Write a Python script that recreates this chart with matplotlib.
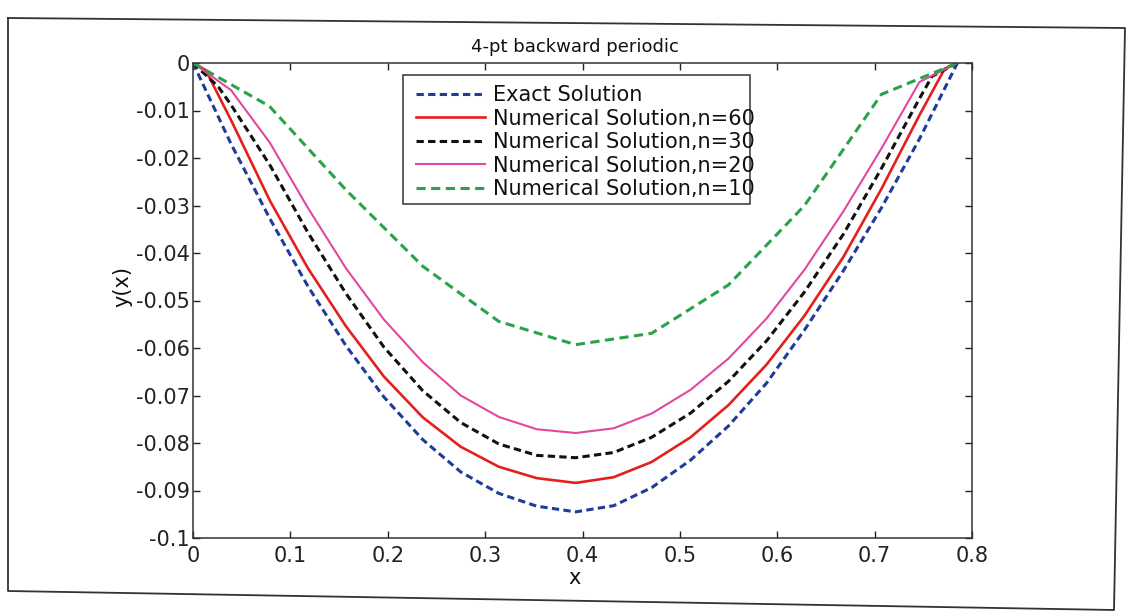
import matplotlib
matplotlib.use("Agg")
import matplotlib.pyplot as plt
from matplotlib.lines import Line2D
from matplotlib.patches import Rectangle

# grid points on [0, pi/4]
x_exact = [0, 0.039, 0.079, 0.118, 0.157, 0.196, 0.236, 0.275, 0.314, 0.353, 0.393,
           0.432, 0.471, 0.511, 0.550, 0.589, 0.628, 0.668, 0.707, 0.746, 0.785]
y_exact = [0, -0.0170, -0.0328, -0.0470, -0.0595, -0.0703, -0.0793, -0.0861, -0.0906, -0.0933, -0.0945,
           -0.0932, -0.0894, -0.0836, -0.0764, -0.0674, -0.0562, -0.0437, -0.0305, -0.0160, 0]

x_n60 = [0, 0.013, 0.039, 0.079, 0.118, 0.157, 0.196, 0.236, 0.275, 0.314, 0.353, 0.393,
         0.432, 0.471, 0.511, 0.550, 0.589, 0.628, 0.668, 0.707, 0.746, 0.772, 0.785]
y_n60 = [0, -0.0015, -0.0120, -0.0290, -0.0432, -0.0554, -0.0660, -0.0746, -0.0808, -0.0850, -0.0874, -0.0884,
         -0.0872, -0.0840, -0.0788, -0.0720, -0.0635, -0.0532, -0.0408, -0.0265, -0.0110, -0.0012, 0]

x_n30 = [0, 0.026, 0.039, 0.079, 0.118, 0.157, 0.196, 0.236, 0.275, 0.314, 0.353, 0.393,
         0.432, 0.471, 0.511, 0.550, 0.589, 0.628, 0.668, 0.707, 0.746, 0.759, 0.785]
y_n30 = [0, -0.0050, -0.0088, -0.0215, -0.0357, -0.0485, -0.0598, -0.0690, -0.0757, -0.0802, -0.0826, -0.0831,
         -0.0820, -0.0788, -0.0737, -0.0670, -0.0585, -0.0482, -0.0360, -0.0222, -0.0075, -0.0028, 0]

x_n20 = [0, 0.039, 0.079, 0.118, 0.157, 0.196, 0.236, 0.275, 0.314, 0.353, 0.393,
         0.432, 0.471, 0.511, 0.550, 0.589, 0.628, 0.668, 0.707, 0.746, 0.785]
y_n20 = [0, -0.0057, -0.0168, -0.0305, -0.0432, -0.0540, -0.0630, -0.0700, -0.0745, -0.0771, -0.0779,
         -0.0769, -0.0738, -0.0688, -0.0622, -0.0538, -0.0435, -0.0312, -0.0180, -0.0040, 0]

x_n10 = [0, 0.0785, 0.157, 0.236, 0.314, 0.393, 0.471, 0.550, 0.628, 0.707, 0.785]
y_n10 = [0, -0.0091, -0.0267, -0.0428, -0.0544, -0.0593, -0.0569, -0.0467, -0.0300, -0.0066, 0]

xticks = [0, 0.1, 0.2, 0.3, 0.4, 0.5, 0.6, 0.7, 0.8]
xtick_labels = ["0", "0.1", "0.2", "0.3", "0.4", "0.5", "0.6", "0.7", "0.8"]
yticks = [0, -0.01, -0.02, -0.03, -0.04, -0.05, -0.06, -0.07, -0.08, -0.09, -0.1]
ytick_labels = ["0", "-0.01", "-0.02", "-0.03", "-0.04", "-0.05", "-0.06", "-0.07", "-0.08", "-0.09", "-0.1"]

labels = ["Exact Solution", "Numerical Solution,n=60", "Numerical Solution,n=30",
          "Numerical Solution,n=20", "Numerical Solution,n=10"]

plt.rcParams["axes.unicode_minus"] = False
W, H = 1128, 612
fig = plt.figure(figsize=(W / 100, H / 100), dpi=100)
fig.patch.set_facecolor("white")

def fx(px):
    return px / W

def fy(py):
    return 1 - py / H

ax = fig.add_axes([fx(193), fy(538), fx(972) - fx(193), fy(63) - fy(538)])

ax.plot(x_exact, y_exact, color="#1f3c98", lw=2.2, dashes=(2.4, 1.4), label=labels[0])
ax.plot(x_n60, y_n60, color="#e3201e", lw=1.9, label=labels[1])
ax.plot(x_n30, y_n30, color="#111111", lw=2.2, dashes=(2.4, 1.4), label=labels[2])
ax.plot(x_n20, y_n20, color="#e2479f", lw=1.5, label=labels[3])
ax.plot(x_n10, y_n10, color="#2aa24a", lw=2.2, dashes=(3.0, 1.8), label=labels[4])

ax.set_xlim(0, 0.8)
ax.set_ylim(-0.1, 0)
ax.set_xticks(xticks)
ax.set_xticklabels(xtick_labels)
ax.set_yticks(yticks)
ax.set_yticklabels(ytick_labels)
ax.tick_params(direction="in", top=True, right=True, length=5, width=1,
               labelsize=15, colors="#222222")
ax.tick_params(axis="x", pad=6)
ax.tick_params(axis="y", pad=2.5)
for s in ax.spines.values():
    s.set_color("#333333")
    s.set_linewidth(1.1)

ax.set_title("4-pt backward periodic", fontsize=13, pad=8, x=0.49, color="#111111")
ax.set_xlabel("x", fontsize=15, labelpad=1, x=0.49, color="#111111")
ax.set_ylabel("y(x)", fontsize=15, labelpad=2, y=0.53, color="#111111")

# legend text runs past its box, as in the printed figure
leg = ax.legend(loc="upper left", bbox_to_anchor=(fx(416), fy(85)),
                bbox_transform=fig.transFigure, frameon=False, fontsize=15,
                handlelength=3.3, handletextpad=0.4, labelspacing=0.17,
                borderpad=0, borderaxespad=0)
for t in leg.get_texts():
    t.set_color("#111111")
ax.add_patch(Rectangle((fx(403), fy(204)), fx(750) - fx(403), fy(75) - fy(204),
                       transform=fig.transFigure, fill=False, ec="#333333", lw=1.1,
                       zorder=5, clip_on=False))

# page border
border_x = [8, 1125, 1114, 8, 8]
border_y = [18, 28, 610, 591, 18]
fig.add_artist(Line2D([fx(v) for v in border_x], [fy(v) for v in border_y],
                      transform=fig.transFigure, color="#333333", lw=1.3))

fig.savefig("out.png", dpi=100)
